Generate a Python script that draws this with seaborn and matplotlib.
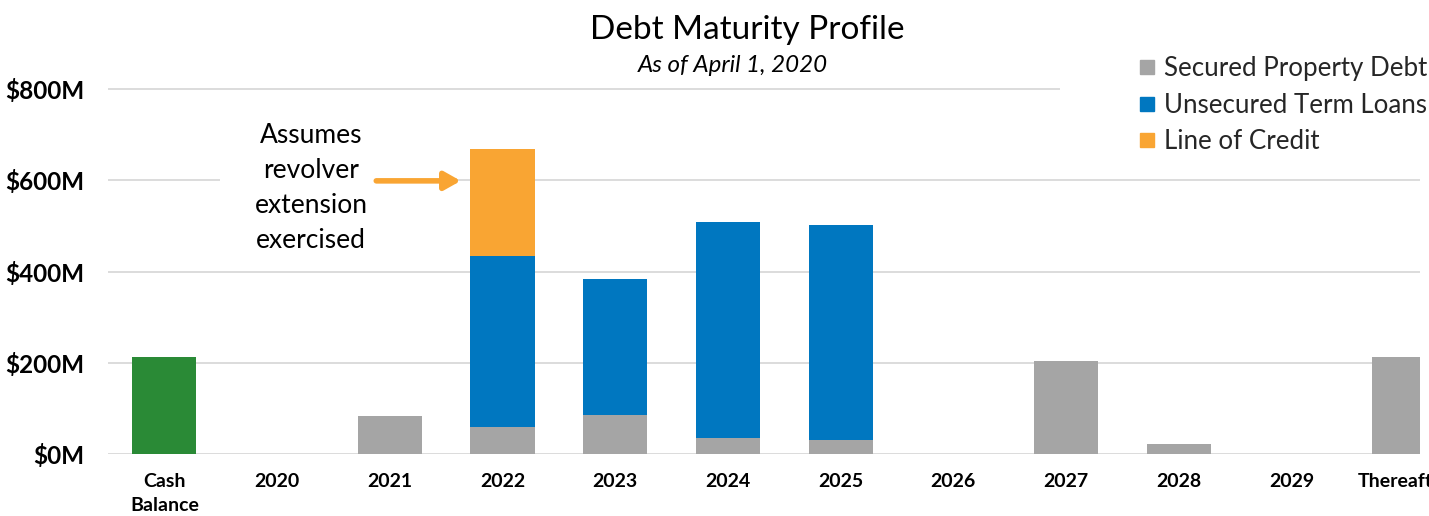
import matplotlib
matplotlib.use("Agg")
import matplotlib.pyplot as plt
from matplotlib.lines import Line2D
from matplotlib.patches import Rectangle
import seaborn as sns
import numpy as np

categories = ["Cash\nBalance", "2020", "2021", "2022", "2023", "2024", "2025",
              "2026", "2027", "2028", "2029", "Thereafter"]
cash_balance = [212, 0, 0, 0, 0, 0, 0, 0, 0, 0, 0, 0]
secured_property_debt = [0, 0, 83, 59, 85, 35, 31, 0, 204, 22, 0, 213]
unsecured_term_loans = [0, 0, 0, 375, 299, 473, 471, 0, 0, 0, 0, 0]
line_of_credit = [0, 0, 0, 235, 0, 0, 0, 0, 0, 0, 0, 0]
y_ticks = [0, 200, 400, 600, 800]
y_tick_labels = ["$0M", "$200M", "$400M", "$600M", "$800M"]
series_names = ["Secured Property Debt", "Unsecured Term Loans", "Line of Credit"]

C_GREEN = "#2A8A36"
C_GRAY = "#A5A5A5"
C_BLUE = "#0077C0"
C_ORANGE = "#F9A533"

sns.set_theme(style="white")
plt.rcParams["font.family"] = ["Lato", "DejaVu Sans"]

fig = plt.figure(figsize=(14.29, 5.16), dpi=100)
ax = fig.add_axes([108 / 1429, 62 / 516, (1420 - 108) / 1429, (805 * 0.456) / 516])

W = 0.57
sec = np.array(secured_property_debt)
uns = np.array(unsecured_term_loans)
bar_kw = dict(width=W, ax=ax, saturation=1, zorder=3, linewidth=0, edgecolor="none")
sns.barplot(x=categories, y=cash_balance, color=C_GREEN, **bar_kw)
sns.barplot(x=categories, y=secured_property_debt, color=C_GRAY, **bar_kw)
sns.barplot(x=categories, y=unsecured_term_loans, bottom=sec, color=C_BLUE, **bar_kw)
sns.barplot(x=categories, y=line_of_credit, bottom=sec + uns, color=C_ORANGE, **bar_kw)

ax.set_xlim(-0.5, 11.14)
ax.set_ylim(0, 805)
ax.set_yticks(y_ticks)
ax.set_yticklabels(y_tick_labels)
ax.set_axisbelow(True)
ax.grid(axis="y", color="#D9D9D9", linewidth=1.3)
ax.grid(axis="x", visible=False)
for s in ax.spines.values():
    s.set_visible(False)
ax.tick_params(axis="both", length=0)
ax.tick_params(axis="y", pad=17, labelsize=17.5)
ax.tick_params(axis="x", pad=14, labelsize=14)
for lab in ax.get_yticklabels() + ax.get_xticklabels():
    lab.set_fontweight("bold")
    lab.set_color("black")
for lab in ax.get_xticklabels():
    lab.set_linespacing(1.45)
ax.set_xlabel("")
ax.set_ylabel("")

# annotation with white background hiding the gridline
ax.add_patch(Rectangle((0.49, 555), 1.39, 90, facecolor="white", edgecolor="none",
                       zorder=1.5))
ax.text(1.30, 583, "Assumes\nrevolver\nextension\nexercised", ha="center", va="center",
        fontsize=19, linespacing=1.5, color="black", zorder=4)
ax.annotate("", xy=(2.63, 599), xytext=(1.88, 599),
            arrowprops=dict(arrowstyle="-|>,head_length=0.8,head_width=0.45",
                            color=C_ORANGE, lw=4, shrinkA=0, shrinkB=0), zorder=4)

# titles
fig.text(747 / 1429, 1 - 30 / 516, "Debt Maturity Profile", ha="center", va="center",
         fontsize=24, color="black")
fig.text(733 / 1429, 1 - 66 / 516, "As of April 1, 2020", ha="center", va="center",
         fontsize=17.4, style="italic", color="black")

# legend background and legend
ax.add_patch(Rectangle((1060 / 1429, 1 - 165 / 516), 0.3, 125 / 516,
                       transform=fig.transFigure, facecolor="white", edgecolor="none",
                       zorder=1.5))
handles = [Line2D([], [], marker="s", linestyle="none", markersize=10, color=c)
           for c in (C_GRAY, C_BLUE, C_ORANGE)]
fig.legend(handles, series_names, loc="upper left",
           bbox_to_anchor=(1138 / 1429, 1 - 56 / 516), frameon=False,
           fontsize=18.6, handlelength=0.7, handletextpad=0.3, labelspacing=0.45,
           borderpad=0, borderaxespad=0)

fig.savefig("out.png", dpi=100)
